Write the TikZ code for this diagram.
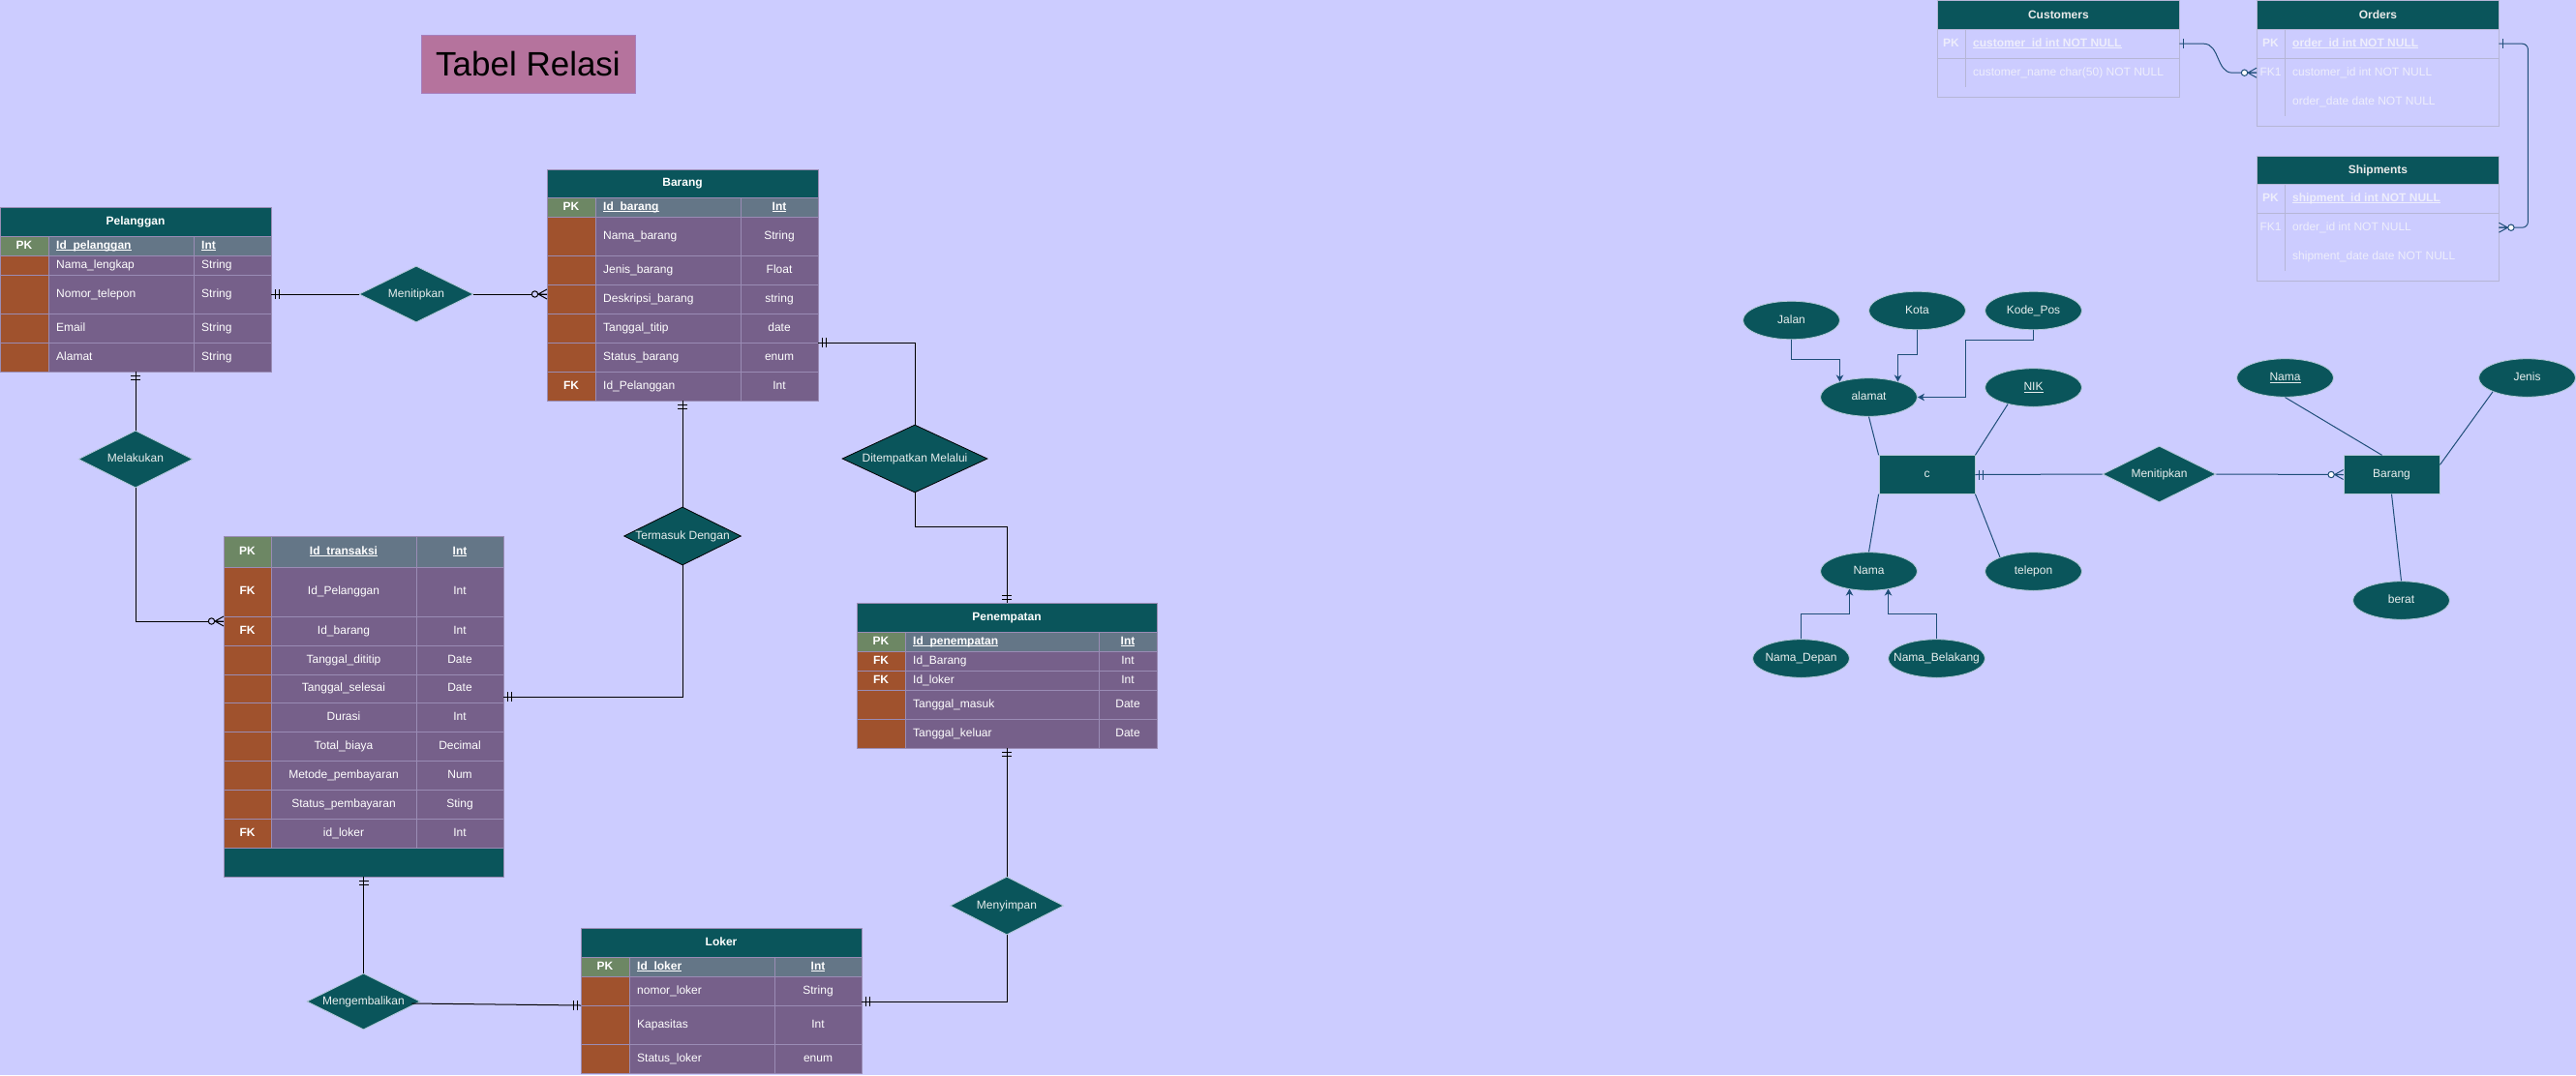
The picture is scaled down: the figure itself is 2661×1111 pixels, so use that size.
\documentclass[tikz,border=0pt]{standalone}
\usepackage{fontspec}
\setmainfont{Liberation Sans}
\usetikzlibrary{shapes.geometric,arrows.meta,calc}
\definecolor{bgc}{HTML}{CCCCFF}
\definecolor{tealc}{HTML}{0A555B}
\definecolor{pkg}{HTML}{6D8764}
\definecolor{fkc}{HTML}{A0522D}
\definecolor{rowc}{HTML}{76608A}
\definecolor{pkrow}{HTML}{647687}
\definecolor{gridc}{HTML}{9A8CB5}
\definecolor{titlec}{HTML}{B5739D}
\definecolor{titleb}{HTML}{A67FBF}
\definecolor{erline}{HTML}{1F4E79}
\definecolor{fainttxt}{HTML}{EEEEFC}
\definecolor{faintln}{HTML}{B6B6D6}
\definecolor{ellline}{HTML}{B4C8D8}
\definecolor{reltxt}{HTML}{E8EEEE}

\newcommand\fsx{\fontsize{12}{14}\selectfont}
\newcommand\pku[1]{\underline{\smash{\textbf{#1}}}}
\newcommand\zb[1]{\makebox[0pt]{#1}}

\newcommand\setcols[4]{\def\cA{#1}\def\cB{#2}\def\cC{#3}\def\cD{#4}%
 \pgfmathsetmacro\wA{#2-#1}\pgfmathsetmacro\wB{#3-#2}\pgfmathsetmacro\wC{#4-#3}\pgfmathsetmacro\wT{#4-#1}}
\newcommand\thead[4]{%
 \node[cellbox, fill=tealc, minimum width=\wT, minimum height=#3] (#1) at (\cA,#2) {};
 \node[ctb] (#1-t) at (#1.center) {#4};}
\newcommand\trow[8]{%
 \node[cellbox, fill=#4, minimum width=\wA, minimum height=#3] (#1-k) at (\cA,#2) {};
 \node[ctb] (#1-kt) at (#1-k.center) {#6};
 \node[cellbox, fill=#5, minimum width=\wB, minimum height=#3] (#1) at (\cB,#2) {};
 \placefield{#1}{#7}%
 \node[cellbox, fill=#5, minimum width=\wC, minimum height=#3] (#1-ty) at (\cC,#2) {};
 \placetype{#1-ty}{#8}}
\newcommand\fieldL[2]{\node[ctx, anchor=west] (#1-ft) at ([xshift=8pt]#1.west) {#2};}
\newcommand\fieldC[2]{\node[ctx] (#1-ft) at (#1.center) {#2};}
\newcommand\typeL[2]{\node[ctx, anchor=west] (#1-tt) at ([xshift=8pt]#1.west) {#2};}
\newcommand\typeC[2]{\node[ctx] (#1-tt) at (#1.center) {#2};}

\newcommand\mkone[3]{\begin{scope}[shift={#2},rotate=#3]\draw[#1,line width=1pt] (4,-5) -- (4,5);\end{scope}}
\newcommand\mktwo[3]{\begin{scope}[shift={#2},rotate=#3]\draw[#1,line width=1pt] (4,-5) -- (4,5) (8,-5) -- (8,5);\end{scope}}
\newcommand\mkzm[4]{\begin{scope}[shift={#3},rotate=#4]\draw[#1,line width=1pt] (0,-5) -- (9,0) -- (0,5) (0,0) -- (9,0);\draw[#1,line width=1pt,fill=#2] (12.5,0) circle (3.2);\end{scope}}

\begin{document}
\begin{tikzpicture}[x=1pt,y=-1pt,
  cellbox/.style={draw=gridc, line width=0.8pt, inner sep=0pt, outer sep=0pt, anchor=north west},
  ctx/.style={text=white, font=\fsx, inner sep=0pt, text height=8.6pt, text depth=2.5pt},
  ctb/.style={ctx, font=\fsx\bfseries},
  conn/.style={draw=black, line width=1pt},
  erl/.style={draw=erline, line width=1pt},
  erarrow/.style={erl, -{Stealth[length=7pt,width=7.5pt,inset=2pt]}},
  rel/.style={diamond, aspect=2, fill=tealc, draw=ellline, line width=0.8pt, inner sep=0pt, text=reltxt, font=\fsx, text height=8.6pt, text depth=2.5pt},
  attr/.style={ellipse, fill=tealc, draw=ellline, line width=0.8pt, minimum width=100, minimum height=39.5, inner sep=0pt, text=reltxt, font=\fsx, text height=8.6pt, text depth=2.5pt},
  ent/.style={rectangle, fill=tealc, draw=ellline, line width=0.8pt, minimum width=99, minimum height=39.5, inner sep=0pt, text=reltxt, font=\fsx, text height=8.6pt, text depth=2.5pt},
  fhead/.style={fill=tealc, draw=faintln, line width=0.8pt, anchor=north west, inner sep=0pt, minimum height=30},
  fbody/.style={draw=faintln, line width=0.8pt, anchor=north west, inner sep=0pt},
  frow/.style={anchor=north west, inner sep=0pt, minimum height=30},
  ftxt/.style={text=fainttxt, font=\fsx, inner sep=0pt, text height=8.6pt, text depth=2.5pt},
  fhtxt/.style={text=white!92!black, font=\fsx\bfseries, inner sep=0pt}]
\fill[bgc] (0,0) rectangle (2661,1111);
\useasboundingbox (0,0) rectangle (2661,1111);

% Title
\node[draw=titleb, fill=titlec, minimum width=221, minimum height=60, inner sep=0pt, font=\fontsize{35}{40}\selectfont, text=black] (title) at (545.5,66) {Tabel Relasi};

% Pelanggan
\setcols{0}{50}{200}{280}
\let\placefield\fieldL \let\placetype\typeL
\thead{pel-h}{214}{30}{Pelanggan}
\trow{pel-r1}{244}{20}{pkg}{pkrow}{PK}{\pku{Id\_pelanggan}}{\pku{Int}}
\trow{pel-r2}{264}{20}{fkc}{rowc}{}{Nama\_lengkap}{String}
\trow{pel-r3}{284}{40}{fkc}{rowc}{}{Nomor\_telepon}{String}
\trow{pel-r4}{324}{30}{fkc}{rowc}{}{Email}{String}
\trow{pel-r5}{354}{30}{fkc}{rowc}{}{Alamat}{String}

% Barang
\setcols{565}{615}{765}{845}
\let\placefield\fieldL \let\placetype\typeC
\thead{bar-h}{175}{29}{Barang}
\trow{bar-r1}{204}{20}{pkg}{pkrow}{PK}{\pku{Id\_barang}}{\pku{Int}}
\trow{bar-r2}{224}{40}{fkc}{rowc}{}{Nama\_barang}{String}
\trow{bar-r3}{264}{30}{fkc}{rowc}{}{Jenis\_barang}{Float}
\trow{bar-r4}{294}{30}{fkc}{rowc}{}{Deskripsi\_barang}{string}
\trow{bar-r5}{324}{30}{fkc}{rowc}{}{Tanggal\_titip}{date}
\trow{bar-r6}{354}{30}{fkc}{rowc}{}{Status\_barang}{enum}
\trow{bar-r7}{384}{30}{fkc}{rowc}{FK}{Id\_Pelanggan}{Int}

% Transaksi
\setcols{231}{280}{430}{520}
\let\placefield\fieldC \let\placetype\typeC
\trow{trx-r1}{554}{32}{pkg}{pkrow}{PK}{\pku{Id\_transaksi}}{\pku{Int}}
\trow{trx-r2}{586}{51}{fkc}{rowc}{FK}{Id\_Pelanggan}{Int}
\trow{trx-r3}{637}{30}{fkc}{rowc}{FK}{Id\_barang}{Int}
\trow{trx-r4}{667}{30}{fkc}{rowc}{}{Tanggal\_dititip}{Date}
\trow{trx-r5}{697}{29}{fkc}{rowc}{}{Tanggal\_selesai}{Date}
\trow{trx-r6}{726}{30}{fkc}{rowc}{}{Durasi}{Int}
\trow{trx-r7}{756}{30}{fkc}{rowc}{}{Total\_biaya}{Decimal}
\trow{trx-r8}{786}{30}{fkc}{rowc}{}{Metode\_pembayaran}{Num}
\trow{trx-r9}{816}{30}{fkc}{rowc}{}{Status\_pembayaran}{Sting}
\trow{trx-r10}{846}{30}{fkc}{rowc}{FK}{id\_loker}{Int}
\node[cellbox, fill=tealc, minimum width=\wT, minimum height=30] (trx-f) at (\cA,876) {};

% Penempatan
\setcols{885}{935}{1135}{1195}
\let\placefield\fieldL \let\placetype\typeC
\thead{pen-h}{623}{30}{Penempatan}
\trow{pen-r1}{653}{20}{pkg}{pkrow}{PK}{\pku{Id\_penempatan}}{\pku{Int}}
\trow{pen-r2}{673}{20}{fkc}{rowc}{FK}{Id\_Barang}{Int}
\trow{pen-r3}{693}{20}{fkc}{rowc}{FK}{Id\_loker}{Int}
\trow{pen-r4}{713}{30}{fkc}{rowc}{}{Tanggal\_masuk}{Date}
\trow{pen-r5}{743}{30}{fkc}{rowc}{}{Tanggal\_keluar}{Date}

% Loker
\setcols{600}{650}{800}{890}
\let\placefield\fieldL \let\placetype\typeC
\thead{lok-h}{959}{30}{Loker}
\trow{lok-r1}{989}{20}{pkg}{pkrow}{PK}{\pku{Id\_loker}}{\pku{Int}}
\trow{lok-r2}{1009}{30}{fkc}{rowc}{}{nomor\_loker}{String}
\trow{lok-r3}{1039}{40}{fkc}{rowc}{}{Kapasitas}{Int}
\trow{lok-r4}{1079}{30}{fkc}{rowc}{}{Status\_loker}{enum}

% Relationship diamonds (left)
\node[rel, minimum width=118, minimum height=58] (men1) at (430,304) {\zb{Menitipkan}};
\node[rel, minimum width=118, minimum height=59] (mel) at (140,474.5) {\zb{Melakukan}};
\node[rel, draw=black, minimum width=121, minimum height=60] (term) at (705,554) {\zb{Termasuk Dengan}};
\node[rel, draw=black, minimum width=150, minimum height=70] (dit) at (945,474) {\zb{Ditempatkan Melalui}};
\node[rel, minimum width=117, minimum height=60] (meny) at (1040,936) {\zb{Menyimpan}};
\node[rel, minimum width=117, minimum height=58] (meng) at (375.5,1035) {\zb{Mengembalikan}};

% Connectors (left)
\draw[conn] (pel-r3-ty.east) -- (men1.west);
\mktwo{black}{(pel-r3-ty.east)}{0}
\draw[conn] (men1.east) -- (men1.east -| bar-h.west);
\mkzm{black}{bgc}{(men1.east -| bar-h.west)}{180}

\draw[conn] (mel.north |- pel-r5.south) -- (mel.north);
\mktwo{black}{(mel.north |- pel-r5.south)}{-90}
\draw[conn] (mel.south) |- ($(trx-r3-k.north west)+(0,5)$);
\mkzm{black}{bgc}{($(trx-r3-k.north west)+(0,5)$)}{180}

\draw[conn] (term.north |- bar-r7.south) -- (term.north);
\mktwo{black}{(term.north |- bar-r7.south)}{-90}
\draw[conn] (term.south) |- ($(trx-r5-ty.south east)+(0,-6)$);
\mktwo{black}{($(trx-r5-ty.south east)+(0,-6)$)}{0}

\draw[conn] (bar-r5-ty.south east) -| (dit.north);
\mktwo{black}{(bar-r5-ty.south east)}{0}
\draw[conn] (dit.south) -- ++(0,35) -| (pen-h.north);
\mktwo{black}{(pen-h.north)}{90}

\draw[conn] (meny.north |- pen-r5.south) -- (meny.north);
\mktwo{black}{(meny.north |- pen-r5.south)}{-90}
\draw[conn] (meny.south) |- ($(lok-r2-ty.south east)+(0,-4)$);
\mktwo{black}{($(lok-r2-ty.south east)+(0,-4)$)}{0}

\draw[conn] (meng.north |- trx-f.south) -- (meng.north);
\mktwo{black}{(meng.north |- trx-f.south)}{-90}
\draw[conn] ($(meng.east)+(-9,2)$) -- (lok-r2-k.south west);
\mktwo{black}{(lok-r2-k.south west)}{180}

% Customers / Orders / Shipments
\node[fhead, minimum width=250] (cus-h) at (2001,0) {};
\node[fhtxt] (cus-ht) at (cus-h.center) {Customers};
\node[fbody, minimum width=250, minimum height=70] (cus-b) at (2001,30) {};
\node[frow, minimum width=250] (cus-r1) at (2001,30) {};
\node[frow, minimum width=250] (cus-r2) at (2001,60) {};
\draw[faintln, line width=0.8pt] (cus-r1.south west) -- (cus-r1.south east);
\draw[faintln, line width=0.8pt] ([xshift=29pt]cus-r1.north west) -- ([xshift=29pt]cus-r2.south west);
\node[ftxt, font=\fsx\bfseries] (cus-r1-k) at ([xshift=14.5pt]cus-r1.west) {PK};
\node[ftxt, anchor=west] (cus-r1-f) at ([xshift=37pt]cus-r1.west) {\pku{customer\_id int NOT NULL}};
\node[ftxt, anchor=west] (cus-r2-f) at ([xshift=37pt]cus-r2.west) {customer\_name char(50) NOT NULL};

\node[fhead, minimum width=250] (ord-h) at (2331,0) {};
\node[fhtxt] (ord-ht) at (ord-h.center) {Orders};
\node[fbody, minimum width=250, minimum height=100] (ord-b) at (2331,30) {};
\node[frow, minimum width=250] (ord-r1) at (2331,30) {};
\node[frow, minimum width=250] (ord-r2) at (2331,60) {};
\node[frow, minimum width=250] (ord-r3) at (2331,90) {};
\draw[faintln, line width=0.8pt] (ord-r1.south west) -- (ord-r1.south east);
\draw[faintln, line width=0.8pt] ([xshift=29pt]ord-r1.north west) -- ([xshift=29pt]ord-r3.south west);
\node[ftxt, font=\fsx\bfseries] (ord-r1-k) at ([xshift=14.5pt]ord-r1.west) {PK};
\node[ftxt] (ord-r2-k) at ([xshift=14.5pt]ord-r2.west) {FK1};
\node[ftxt, anchor=west] (ord-r1-f) at ([xshift=37pt]ord-r1.west) {\pku{order\_id int NOT NULL}};
\node[ftxt, anchor=west] (ord-r2-f) at ([xshift=37pt]ord-r2.west) {customer\_id int NOT NULL};
\node[ftxt, anchor=west] (ord-r3-f) at ([xshift=37pt]ord-r3.west) {order\_date date NOT NULL};

\node[fhead, minimum width=250, minimum height=29] (shp-h) at (2331,161) {};
\node[fhtxt] (shp-ht) at (shp-h.center) {Shipments};
\node[fbody, minimum width=250, minimum height=100] (shp-b) at (2331,190) {};
\node[frow, minimum width=250] (shp-r1) at (2331,190) {};
\node[frow, minimum width=250] (shp-r2) at (2331,220) {};
\node[frow, minimum width=250] (shp-r3) at (2331,250) {};
\draw[faintln, line width=0.8pt] (shp-r1.south west) -- (shp-r1.south east);
\draw[faintln, line width=0.8pt] ([xshift=29pt]shp-r1.north west) -- ([xshift=29pt]shp-r3.south west);
\node[ftxt, font=\fsx\bfseries] (shp-r1-k) at ([xshift=14.5pt]shp-r1.west) {PK};
\node[ftxt] (shp-r2-k) at ([xshift=14.5pt]shp-r2.west) {FK1};
\node[ftxt, anchor=west] (shp-r1-f) at ([xshift=37pt]shp-r1.west) {\pku{shipment\_id int NOT NULL}};
\node[ftxt, anchor=west] (shp-r2-f) at ([xshift=37pt]shp-r2.west) {order\_id int NOT NULL};
\node[ftxt, anchor=west] (shp-r3-f) at ([xshift=37pt]shp-r3.west) {shipment\_date date NOT NULL};

\draw[erl] (cus-r1.east) -- ++(25,0) to[out=0,in=180] ($(ord-r2.west)+(-25,0)$) -- (ord-r2.west);
\mkone{erline}{(cus-r1.east)}{0}
\mkzm{erline}{white}{(ord-r2.west)}{180}
\draw[erl, rounded corners=6pt] (ord-r1.east) -- ++(30,0) |- (shp-r2.east);
\mkone{erline}{(ord-r1.east)}{0}
\mkzm{erline}{white}{(shp-r2.east)}{0}

% ER diagram (right)
\node[ent] (c) at (1990.5,490.5) {c};
\node[ent] (bar2) at (2470.5,490.5) {Barang};
\node[rel, minimum width=117, minimum height=58] (men2) at (2230.5,490) {\zb{Menitipkan}};
\node[attr] (jalan) at (1850.5,331) {\zb{Jalan}};
\node[attr] (kota) at (1980.5,321) {\zb{Kota}};
\node[attr] (kp) at (2100.5,321) {\zb{Kode\_Pos}};
\node[attr] (alamat) at (1930.5,410.5) {\zb{alamat}};
\node[attr] (nik) at (2100.5,400.5) {\zb{\underline{\smash{NIK}}}};
\node[attr] (nama) at (1930.5,590.5) {\zb{Nama}};
\node[attr] (tel) at (2100.5,590.5) {\zb{telepon}};
\node[attr] (nd) at (1860.5,680.5) {\zb{Nama\_Depan}};
\node[attr] (nb) at (2000.5,680.5) {\zb{Nama\_Belakang}};
\node[attr] (nama2) at (2360.5,390.5) {\zb{\underline{\smash{Nama}}}};
\node[attr] (jenis) at (2610.5,390.5) {\zb{Jenis}};
\node[attr] (berat) at (2480.5,620.5) {\zb{berat}};

\draw[erl] (alamat.south) -- (c.north west);
\draw[erl] (nik.213) -- (c.north east);
\draw[erl] (nama.north) -- (c.south west);
\draw[erl] (tel.157) -- (c.south east);
\draw[erarrow] (jalan.south) -- ++(0,20) -| ($(alamat.center)+(-30,-16)$);
\draw[erarrow] (kota.south) -- ++(0,25) -| ($(alamat.center)+(30,-16)$);
\draw[erarrow] (kp.south) -- ++(0,10) -| ($(alamat.east)+(50,0)$) -- (alamat.east);
\draw[erarrow] (nd.north) -- ++(0,-26) -| ($(nama.center)+(-20,18)$);
\draw[erarrow] (nb.north) -- ++(0,-26) -| ($(nama.center)+(20,18)$);

\draw[erl] (c.east) -- (men2.west);
\mktwo{erline}{(c.east)}{0}
\draw[erl] (men2.east) -- (bar2.west);
\mkzm{erline}{white}{(bar2.west)}{180}

\draw[erl] (nama2.south) -- ($(bar2.north west)!0.4!(bar2.north east)$);
\draw[erl] (jenis.202) -- ($(bar2.north east)!0.25!(bar2.south east)$);
\draw[erl] (berat.north) -- (bar2.south);
\end{tikzpicture}
\end{document}
